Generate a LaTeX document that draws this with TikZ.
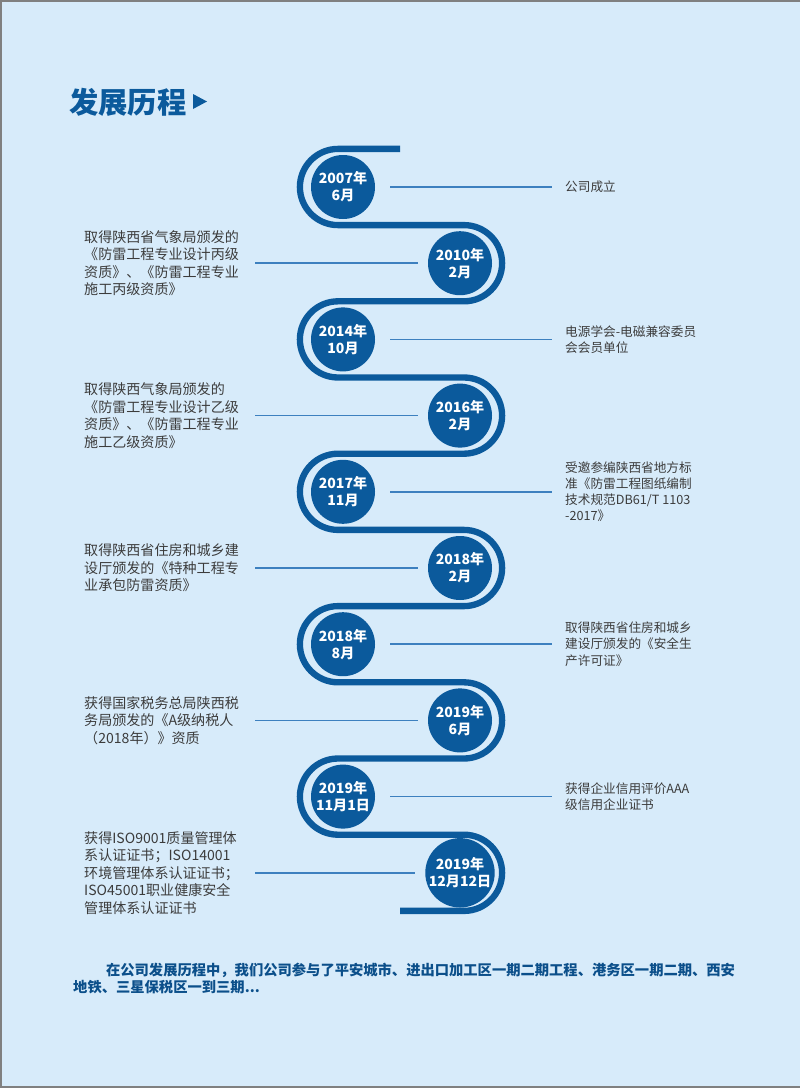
\documentclass[tikz,border=0pt]{standalone}
\usepackage{fontspec}
\setmainfont{Noto Sans CJK SC}
\definecolor{bgblue}{HTML}{D7EBFA}
\definecolor{bandblue}{HTML}{0B5A9C}
\definecolor{lineblue}{HTML}{3D80BF}
\definecolor{txtgray}{HTML}{3C3C3C}
\definecolor{parablue}{HTML}{0B4F8A}
\definecolor{framegray}{HTML}{808080}
\tikzset{
  yearnode/.style={circle, fill=bandblue, minimum size=1.92cm, inner sep=0pt, text=white,
    align=center, font=\fontsize{12}{14.6}\selectfont\bfseries},
  lefttext/.style={anchor=west, inner sep=0pt, text width=4.7cm, align=left, text=txtgray,
    font=\fontsize{12}{15}\selectfont},
  righttext/.style={anchor=west, inner sep=0pt, align=left, text=txtgray,
    font=\fontsize{10.8}{13.7}\selectfont},
  toright/.style={lineblue, line width=1.3pt, shorten <=0.45cm, shorten >=0.39cm},
  toleft/.style={lineblue, line width=1.3pt, shorten <=0.42cm, shorten >=0.3cm},
}
\begin{document}
\begin{tikzpicture}[x=0.03cm, y=-0.03cm]
\useasboundingbox (0,0) rectangle (800,1088);
\fill[bgblue] (0,0) rectangle (800,1088);
\draw[framegray, line width=0.06cm] (800,1) -- (1,1) -- (1,1087) -- (800,1087);

% title
\node[anchor=west, inner sep=0pt, text=bandblue, font=\fontsize{25}{25}\selectfont\bfseries] (title) at (69,102) {发展历程};
\fill[bandblue] (193,94) -- (207,101.5) -- (193,109) -- cycle;

% winding band
\draw[bandblue, line width=0.19cm] (400,148.9) -- (338,148.9) arc[start angle=270, end angle=90, radius=38.1]
  -- (464,225.1) arc[start angle=-90, end angle=90, radius=38.1]
  -- (338,301.3) arc[start angle=270, end angle=90, radius=38.1]
  -- (464,377.5) arc[start angle=-90, end angle=90, radius=38.1]
  -- (338,453.7) arc[start angle=270, end angle=90, radius=38.1]
  -- (464,529.9) arc[start angle=-90, end angle=90, radius=38.1]
  -- (338,606.1) arc[start angle=270, end angle=90, radius=38.1]
  -- (464,682.3) arc[start angle=-90, end angle=90, radius=38.1]
  -- (338,758.5) arc[start angle=270, end angle=90, radius=38.1]
  -- (464,834.7) arc[start angle=-90, end angle=90, radius=38.1]
  -- (400,910.9);

% years
\node[yearnode] (y2007) at (343,187) {2007年\\6月};
\node[yearnode] (y2010) at (460,263.2) {2010年\\2月};
\node[yearnode] (y2014) at (343,339.4) {2014年\\10月};
\node[yearnode] (y2016) at (460,415.6) {2016年\\2月};
\node[yearnode] (y2017) at (343,491.8) {2017年\\11月};
\node[yearnode] (y2018a) at (460,568) {2018年\\2月};
\node[yearnode] (y2018b) at (343,644.2) {2018年\\8月};
\node[yearnode] (y2019a) at (460,720.4) {2019年\\6月};
\node[yearnode] (y2019b) at (343,796.6) {2019年\\11月1日};
\node[yearnode] (y2019c) at (460,872.8) {2019年\\12月12日};

% events
\node[righttext] (t2007) at (565,187) {公司成立};
\node[lefttext] (t2010) at (84,263.2) {取得陕西省气象局颁发的\\《防雷工程专业设计丙级\\资质》、《防雷工程专业\\施工丙级资质》};
\node[righttext] (t2014) at (565,339.4) {电源学会-电磁兼容委员\\会会员单位};
\node[lefttext] (t2016) at (84,415.6) {取得陕西气象局颁发的\\《防雷工程专业设计乙级\\资质》、《防雷工程专业\\施工乙级资质》};
\node[righttext] (t2017) at (565,491.8) {受邀参编陕西省地方标\\准《防雷工程图纸编制\\技术规范DB61/T 1103\\-2017》};
\node[lefttext] (t2018a) at (84,568) {取得陕西省住房和城乡建\\设厅颁发的《特种工程专\\业承包防雷资质》};
\node[righttext] (t2018b) at (565,644.2) {取得陕西省住房和城乡\\建设厅颁发的《安全生\\产许可证》};
\node[lefttext] (t2019a) at (84,720.4) {获得国家税务总局陕西税\\务局颁发的《A级纳税人\\（2018年）》资质};
\node[righttext] (t2019b) at (565,796.6) {获得企业信用评价AAA\\级信用企业证书};
\node[lefttext] (t2019c) at (84,872.8) {获得ISO9001质量管理体\\系认证证书；ISO14001\\环境管理体系认证证书；\\ISO45001职业健康安全\\管理体系认证证书};

% leaders
\draw[toright] (y2007.east) -- (t2007.west);
\draw[toleft] (t2010.east) -- (y2010.west);
\draw[toright] (y2014.east) -- (t2014.west);
\draw[toleft] (t2016.east) -- (y2016.west);
\draw[toright] (y2017.east) -- (t2017.west);
\draw[toleft] (t2018a.east) -- (y2018a.west);
\draw[toright] (y2018b.east) -- (t2018b.west);
\draw[toleft] (t2019a.east) -- (y2019a.west);
\draw[toright] (y2019b.east) -- (t2019b.west);
\draw[toleft] (t2019c.east) -- (y2019c.west);

% summary
\node[anchor=west, inner sep=0pt, align=left, text=parablue, font=\fontsize{12.2}{14.5}\selectfont\bfseries] (summary) at (73,978.5)
  {\hspace*{2.3em}在公司发展历程中，我们公司参与了平安城市、进出口加工区一期二期工程、港务区一期二期、西安\\地铁、三星保税区一到三期...};
\end{tikzpicture}
\end{document}
